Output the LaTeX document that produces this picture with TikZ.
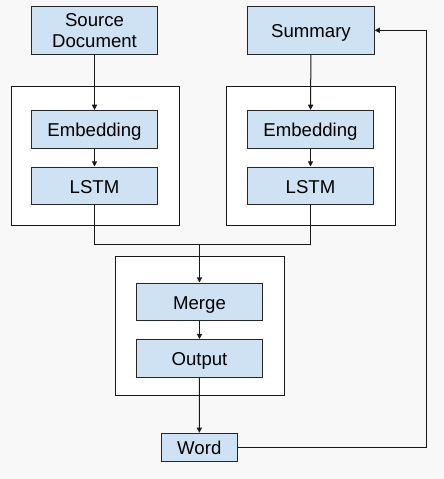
\documentclass[tikz,border=0pt]{standalone}
\usepackage{fontspec}
\setmainfont{Liberation Sans}
\usetikzlibrary{arrows.meta}
\definecolor{boxblue}{HTML}{CFE2F3}
\definecolor{paper}{HTML}{F8F8F8}
\tikzset{
  layer/.style={draw=black!85, fill=boxblue, line width=0.5pt, inner sep=0pt,
    minimum width=63.2pt, minimum height=18.8pt, align=center,
    text height=9pt, text depth=1.6pt,
    font=\fontsize{9.3}{10.6}\selectfont},
  panel/.style={draw=black!90, fill=white, line width=0.5pt},
  wire/.style={draw=black!90, line width=0.5pt},
  flow/.style={wire, -{Triangle[length=2.6pt,width=2.6pt]}}
}
\begin{document}
\begin{tikzpicture}[x=0.5pt, y=-0.5pt]
  \fill[paper] (0,0) rectangle (444,479);
  \useasboundingbox (0,0) rectangle (444,479);

  % panels
  \filldraw[panel] (11.3,86.3)  rectangle (179.3,225.3);
  \filldraw[panel] (226.3,86.3) rectangle (395.7,225.3);
  \filldraw[panel] (115.3,256.3) rectangle (284.7,395);

  % inputs
  \node[layer, minimum height=24pt, text height={}, text depth={}] (src) at (94.5,30.3) {Source\\Document};
  \node[layer, minimum height=24pt] (sum) at (311,30.3)  {Summary};

  % encoders
  \node[layer] (embL)  at (94.5,129.2)  {Embedding};
  \node[layer] (lstmL) at (94.5,185.8)  {LSTM};
  \node[layer] (embR)  at (310.5,129.2) {Embedding};
  \node[layer] (lstmR) at (310.5,185.8) {LSTM};

  % decoder
  \node[layer] (merge)  at (199.5,301.8) {Merge};
  \node[layer] (output) at (199.5,358.3) {Output};
  \node[layer, minimum width=38pt, minimum height=14pt] (word) at (199.3,447.3) {Word};

  \coordinate (jn) at (199.5,244.3);
  \coordinate (fb) at (426.5,447.3);

  \draw[flow] (src) -- (embL);
  \draw[flow] (embL) -- (lstmL);
  \draw[flow] (sum) -- (embR);
  \draw[flow] (embR) -- (lstmR);
  \draw[wire] (lstmL.south) |- (jn);
  \draw[wire] (lstmR.south) |- (jn);
  \draw[flow] (jn) -- (merge.north);
  \draw[flow] (merge) -- (output);
  \draw[flow] (output) -- (word);
  \draw[flow] (word.east) -- (fb) |- (sum.east);
\end{tikzpicture}
\end{document}
